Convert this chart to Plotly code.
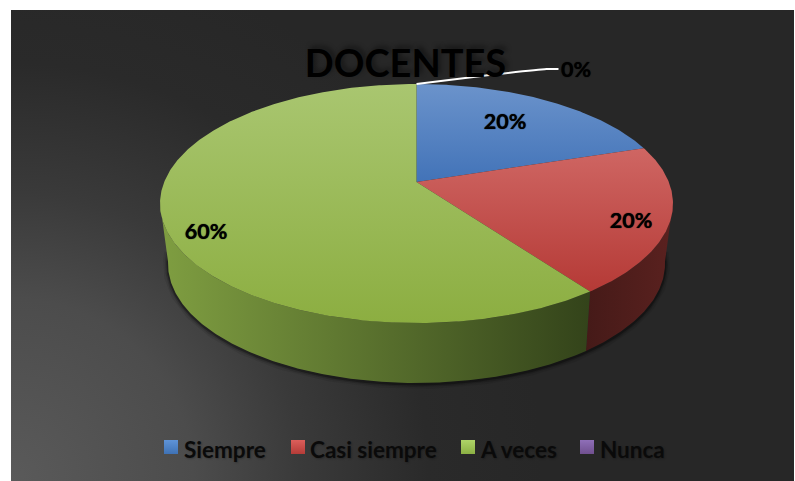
"""Docentes 3D pie chart, drawn on pixel-scaled axes with a perspective projection."""

import numpy as np
import plotly.graph_objects as go

categories = ["Siempre", "Casi siempre", "A veces", "Nunca"]
percent = [20, 20, 60, 0]
percent_labels = ["20%", "20%", "60%", "0%"]

# face gradient: colour at the upper edge, colour at the lower edge
face_colors = [("#6b93cb", "#4273b8"), ("#cf6663", "#b53a36"), ("#a9c670", "#8cae41"), ("#8064a2", "#8064a2")]
swatch_colors = [("#5f94d8", "#3f72b5"), ("#dc5f5b", "#b43c38"), ("#afd468", "#8cb044"), ("#8f6fb8", "#70508f")]
# wall gradient, left to right
wall_colors = [
    ("#3f6aa0", "#3f6aa0"),
    ("#451a18", "#5a211f"),
    ("#7f9e41", "#33431a"),
    ("#5f4a7a", "#5f4a7a"),
]

# plot rectangle in page pixels
X0, X1, Y0, Y1 = 11, 794, 10, 481

# projection of the unit circle onto the top and bottom faces
CX = 416.5
TOP = dict(k=252.3, a=-82.9, b=182.0, c=0.18)
BOTTOM = dict(k=244.0, a=-69.2, b=241.0, c=0.19)


def project(theta_deg, radius, face):
    """Clockwise angle from 12 o'clock on the pie disc to page pixels."""
    t = np.radians(theta_deg)
    x = radius * np.sin(t)
    y = radius * np.cos(t)
    w = 1 + face["c"] * y
    return CX + face["k"] * x / w, (face["a"] * y + face["b"]) / w


def arc(start, end, face):
    n = max(int(abs(end - start)) * 2, 2)
    return project(np.linspace(start, end, n), 1.0, face)


edges = np.concatenate([[0], np.cumsum(percent)]) * 3.6
fig = go.Figure()

# Background
half = 760
fig.add_trace(go.Scatter(
    x=[X0 - half, X0 + half, X0 + half, X0 - half, X0 - half],
    y=[Y1 - half, Y1 - half, Y1 + half, Y1 + half, Y1 - half],
    mode="lines", line=dict(width=0), fill="toself", hoverinfo="skip", showlegend=False,
    fillgradient=dict(type="radial", colorscale=[
        [0, "#5a5a5a"], [0.24, "#4c4c4c"], [0.38, "#3a3a3a"], [0.55, "#2a2a2a"], [0.7, "#272727"], [1, "#272727"],
    ]),
))

# Soft shadow under the wall
sx, sy = arc(95, 265, BOTTOM)
for width, alpha in [(10, 0.08), (6, 0.15), (3, 0.3)]:
    fig.add_trace(go.Scatter(
        x=sx, y=sy + 1, mode="lines", line=dict(color=f"rgba(0,0,0,{alpha})", width=width),
        hoverinfo="skip", showlegend=False,
    ))

# Walls, only the part of the rim that faces the viewer
for i, name in enumerate(categories):
    start, end = max(edges[i], 100), min(edges[i + 1], 260)
    if end <= start:
        continue
    tx, ty = arc(start, end, TOP)
    bx, by = arc(start, end, BOTTOM)
    xs = np.concatenate([tx, bx[::-1], tx[:1]])
    ys = np.concatenate([ty, by[::-1], ty[:1]])
    fig.add_trace(go.Scatter(
        x=xs, y=ys, mode="lines", line=dict(width=0), fill="toself", name=name,
        hoverinfo="skip", showlegend=False,
        fillgradient=dict(
            type="horizontal", start=xs.min(), stop=xs.max(),
            colorscale=[[0, wall_colors[i][0]], [1, wall_colors[i][1]]],
        ),
    ))

# Top faces
for i, name in enumerate(categories):
    if percent[i] == 0:
        continue
    ax, ay = arc(edges[i], edges[i + 1], TOP)
    ox, oy = project(0.0, 0.0, TOP)
    xs = np.concatenate([[ox], ax, [ox]])
    ys = np.concatenate([[oy], ay, [oy]])
    fig.add_trace(go.Scatter(
        x=xs, y=ys, mode="lines", line=dict(width=0), fill="toself", name=name,
        showlegend=False, hovertemplate=f"{name}: {percent[i]}%<extra></extra>",
        fillgradient=dict(
            type="vertical", start=ys.min(), stop=ys.max(),
            colorscale=[[0, face_colors[i][0]], [1, face_colors[i][1]]],
        ),
    ))

# Leader line to the empty slice
lx, ly = project(edges[-1], 1.0, TOP)
fig.add_trace(go.Scatter(
    x=[lx, lx + 65, lx + 130, lx + 142], y=[ly, ly - 8, ly - 15, ly - 15],
    mode="lines", line=dict(color="white", width=2, shape="spline", smoothing=0.4),
    hoverinfo="skip", showlegend=False,
))

# Data labels
label_x = [505, 631, 206, 576]
label_y = [124, 223, 234, 72]
fig.add_trace(go.Scatter(
    x=label_x, y=label_y, mode="text", text=percent_labels, textposition="middle center",
    textfont=dict(family="Lato", size=21.5, color="black", weight="bold", shadow="0 0 1px black"),
    hoverinfo="skip", showlegend=False,
))

# Legend row
swatch_x = [171, 298, 468, 587]
legend_text_x = [184, 310, 481, 600]
fig.add_trace(go.Scatter(
    x=swatch_x, y=[447] * 4, mode="markers",
    marker=dict(symbol="square", size=14, color=[c[0] for c in swatch_colors],
                gradient=dict(type="vertical", color=[c[1] for c in swatch_colors])),
    hoverinfo="skip", showlegend=False,
))
fig.add_trace(go.Scatter(
    x=legend_text_x, y=[452] * 4, mode="text", text=categories, textposition="middle right",
    textfont=dict(family="Lato", size=22.5, color="#0a0a0a", weight="bold",
                  shadow="1px 1px 2px rgba(0,0,0,0.25)"),
    hoverinfo="skip", showlegend=False,
))

fig.update_layout(
    title=dict(
        text="<b>DOCENTES</b>",
        font=dict(family="Lato", size=38, color="black", shadow="3px -3px 5px rgba(0,0,0,0.4)"),
        x=(405.5 - X0) / (X1 - X0), xanchor="center", xref="paper",
        y=(Y1 - 64) / (Y1 - Y0), yanchor="middle", yref="paper",
    ),
    width=795,
    height=481,
    autosize=False,
    margin=dict(l=X0, r=795 - X1, t=Y0, b=481 - Y1, pad=0),
    paper_bgcolor="white",
    plot_bgcolor="#272727",
    showlegend=False,
    xaxis=dict(range=[X0, X1], visible=False, fixedrange=True),
    yaxis=dict(range=[Y1, Y0], visible=False, fixedrange=True),
)

fig.write_html("out.html", post_script="document.body.style.margin='0';", config=dict(displayModeBar=False))
